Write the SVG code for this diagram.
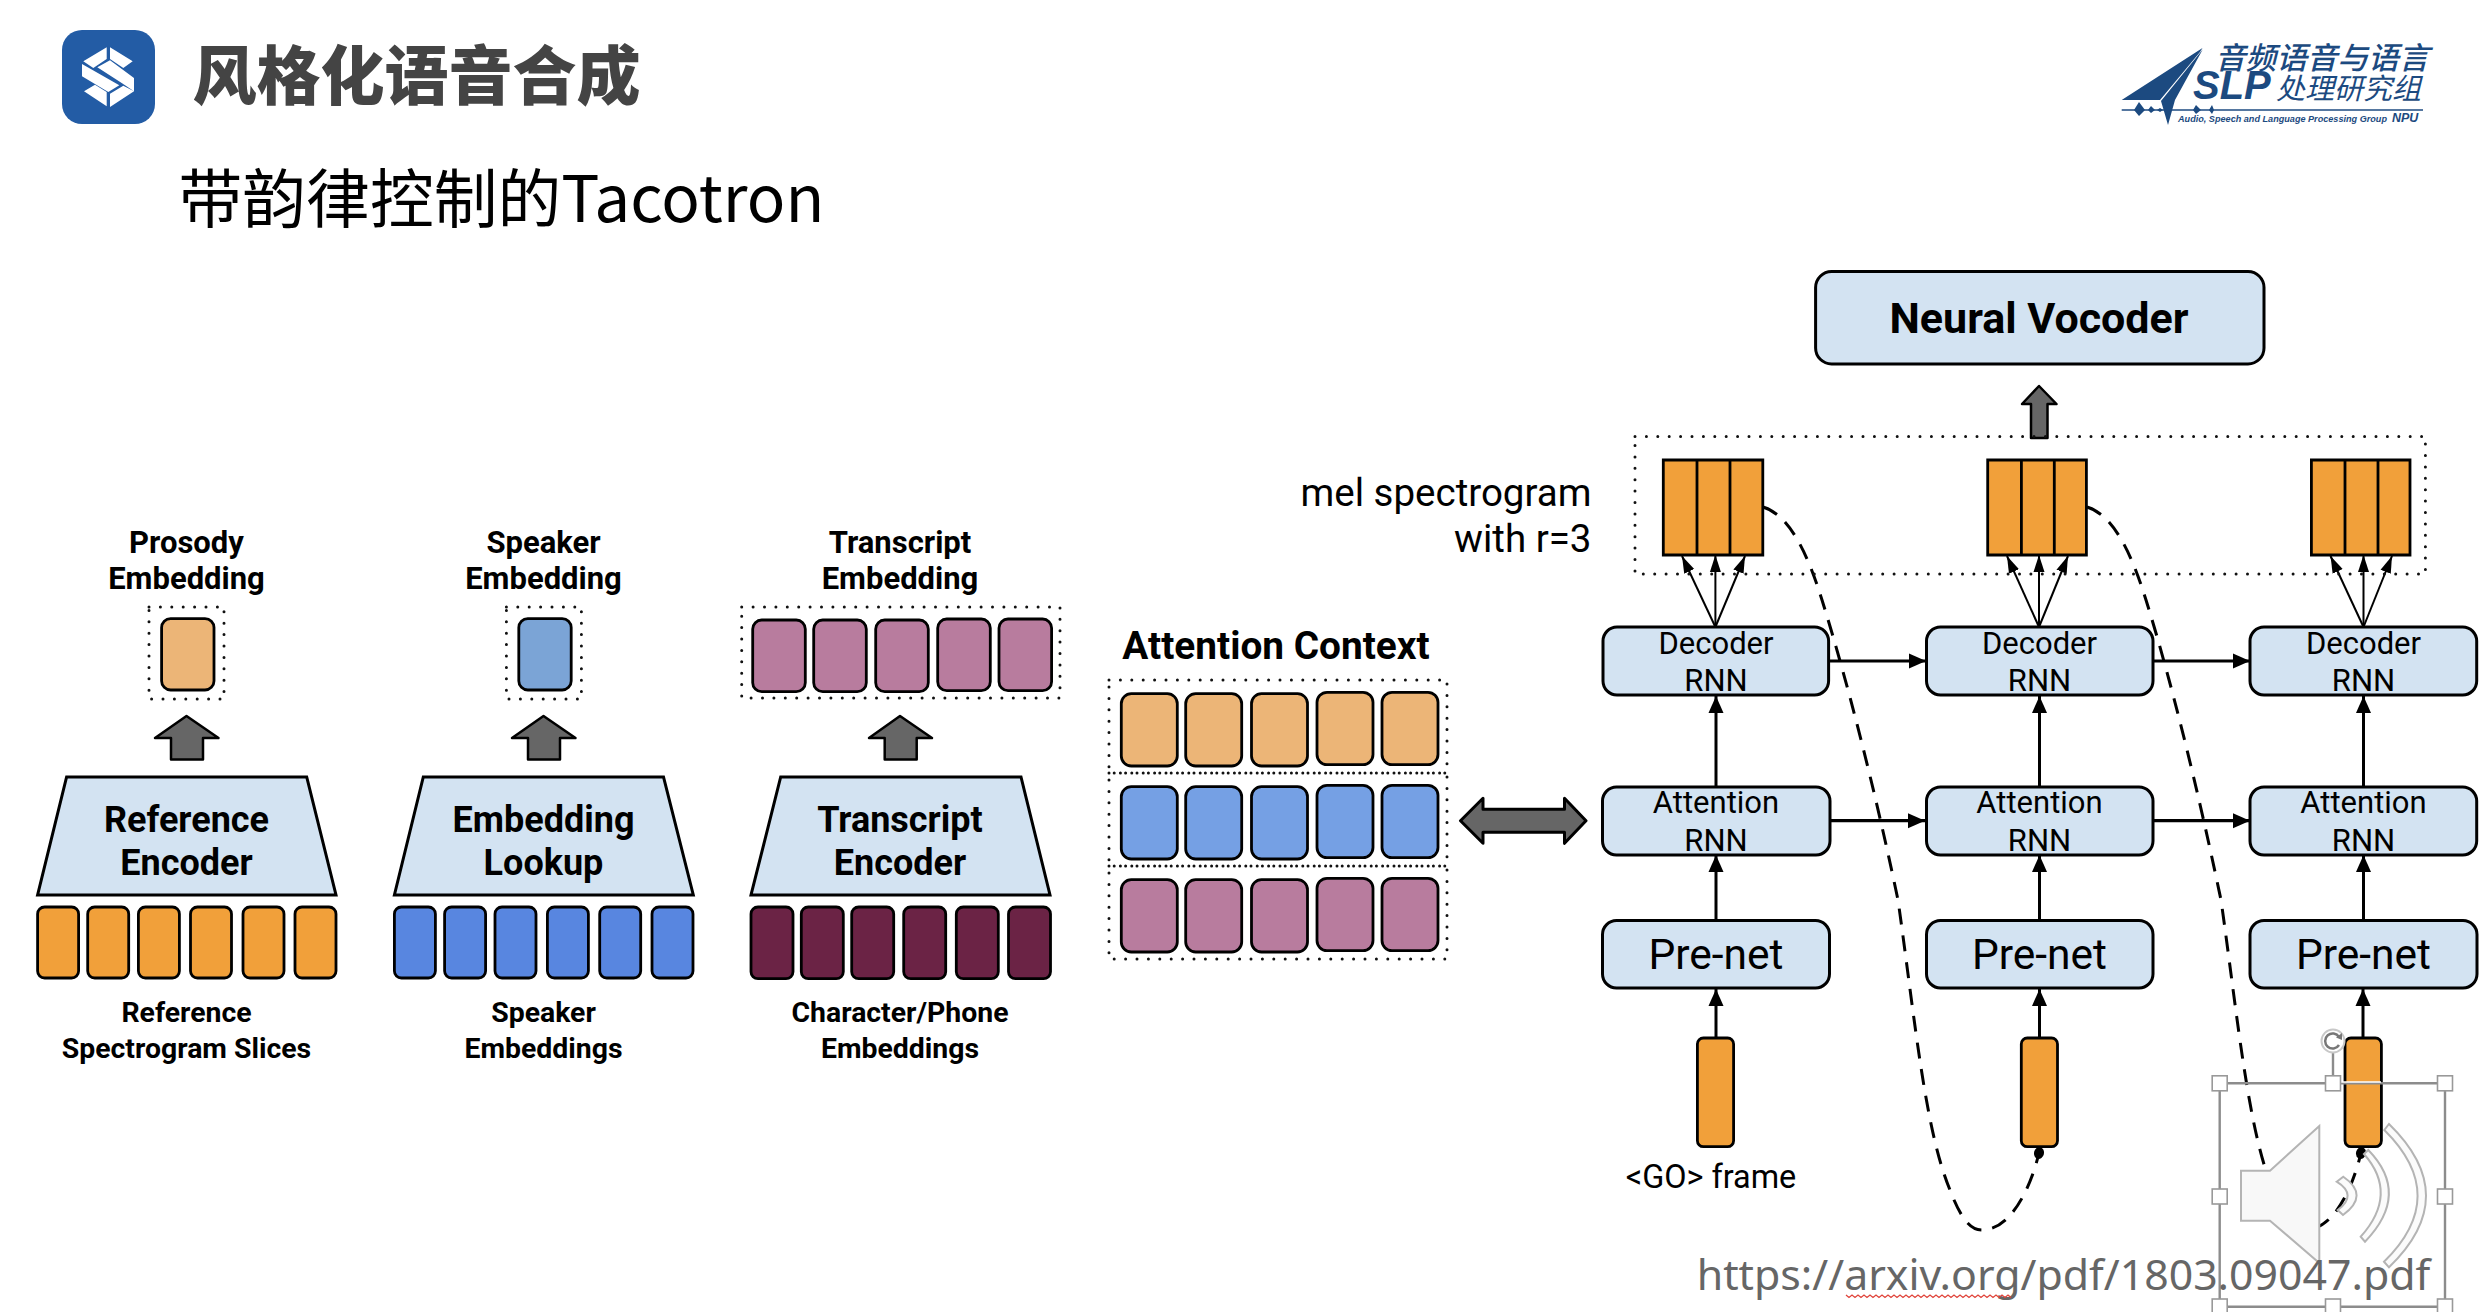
<svg xmlns="http://www.w3.org/2000/svg" width="2488" height="1312" viewBox="0 0 2488 1312">
<style>
text{font-family:Roboto,"Noto Sans",sans-serif;text-anchor:middle;fill:#000}
.cjk{font-family:"Noto Sans CJK SC","Noto Sans",sans-serif;text-anchor:start}
.lab{font-size:31px;font-weight:700}
.lab2{font-size:28.400px;font-weight:700}
.enc{font-size:36px;font-weight:700}
.rnn{font-size:31px}
.pre{font-size:42.500px}
.logo{font-family:"Noto Sans CJK SC",sans-serif;font-style:italic;fill:#1c4a80;text-anchor:start}
.logol{font-family:"Liberation Sans",sans-serif;font-style:italic;font-weight:700;fill:#1c4a80;text-anchor:start}
.c{stroke:#000;stroke-width:2.8}
.or{fill:#f1a03a}.bl{fill:#5886e0}.pl{fill:#6b2345}
.lor{fill:#ecb577}.lbl{fill:#75a0e4}.lpl{fill:#b87c9e}.lb2{fill:#7ba4d6}
.box{fill:#d3e3f2;stroke:#000;stroke-width:3}
.dot{fill:none;stroke:#111;stroke-width:3;stroke-linecap:round;stroke-dasharray:0 11.4}
.gar{fill:#666;stroke:#000;stroke-width:2.5;stroke-linejoin:round}
.ln{fill:none;stroke:#000;stroke-width:3.2}
.v{fill:none;stroke:#000;stroke-width:3}
.thin{fill:none;stroke:#000;stroke-width:2}
.dash{fill:none;stroke:#000;stroke-width:3;stroke-dasharray:16 11}
.h{fill:#fff;stroke:#999;stroke-width:1.6}
.fr{fill:none;stroke:#8c8c8c;stroke-width:2.4}
.arc{fill:#fbfbfb;stroke:#b4b4b4;stroke-width:2}
</style>
<defs>
<marker id="ah" markerUnits="userSpaceOnUse" markerWidth="18" markerHeight="16" refX="17" refY="8" orient="auto"><path d="M0,0.5L17,8L0,15.5Z" fill="#000"/></marker>
<marker id="as" markerUnits="userSpaceOnUse" markerWidth="18" markerHeight="13" refX="17" refY="6.5" orient="auto"><path d="M0,1L17,6.5L0,12Z" fill="#000"/></marker>
<marker id="dt" markerUnits="userSpaceOnUse" markerWidth="14" markerHeight="14" refX="7" refY="7" orient="auto"><ellipse cx="7" cy="7" rx="6" ry="5" fill="#000"/></marker>
</defs>

<g id="header-icon">
<rect x="62" y="30" width="93" height="94" rx="20" fill="#235ca5"/>
<path fill="#fff" d="M83.300,61.300L106.700,47.300V59L93.300,68Z M110,47.300L132.700,61.300L123.300,68L110,59Z M82,64L119.300,85.300L108.300,92L82,76.300Z M97.300,67.300L110,60.300L134,78V91.300L121.700,83Z M84,91.300L95,84.700L106.700,92V106.300Z M110,93.700L123.300,85.700L134,91.300L110,107Z"/>
</g>
<text class="cjk" x="192.500" y="98.500" font-size="64" font-weight="900" style="fill:#444">风格化语音合成</text>
<text class="cjk" x="178.500" y="221.500" font-size="63.800" style="fill:#000">带韵律控制的Tacotron</text>

<g id="slp-logo">
<path fill="#1c4a80" d="M2202.500,48L2121.700,100H2160L2200,52Z M2202.700,49.500L2161,101L2168,125L2175,100Z"/>
<path fill="none" stroke="#1c4a80" stroke-width="1.500" d="M2121.700,110H2423"/>
<path fill="#1c4a80" d="M2134,110L2139,102L2145,110L2139,116Z M2148,110L2151,106L2155,110L2151,113Z M2157,110L2160,108L2163,110L2160,112Z M2193,110L2196,105L2201,110L2196,114Z M2209,110L2212,105L2214,110L2212,114Z"/>
<text class="logo" x="2215" y="69" font-size="30.600" font-weight="500">音频语音与语言</text>
<text class="logol" x="2193" y="99" font-size="40">SLP</text>
<text class="logo" x="2276" y="99" font-size="29">处理研究组</text>
<text class="logol" x="2178" y="122" font-size="9.600" textLength="209" lengthAdjust="spacingAndGlyphs">Audio, Speech and Language Processing Group</text>
<text class="logol" x="2392" y="122" font-size="12.500">NPU</text>
</g>

<g id="connectors">
<path class="ln" marker-end="url(#ah)" d="M1829,661H1926"/>
<path class="ln" marker-end="url(#ah)" d="M2153,661H2250"/>
<path class="ln" marker-end="url(#ah)" d="M1830,820.700H1925"/>
<path class="ln" marker-end="url(#ah)" d="M2153,820.700H2250"/>
<path class="v" marker-end="url(#ah)" d="M1716,787V696"/>
<path class="v" marker-end="url(#ah)" d="M2039.500,787V696"/>
<path class="v" marker-end="url(#ah)" d="M2363.500,787V696"/>
<path class="v" marker-end="url(#ah)" d="M1716,921V855"/>
<path class="v" marker-end="url(#ah)" d="M2039.500,921V855"/>
<path class="v" marker-end="url(#ah)" d="M2363.500,921V855"/>
<path class="v" marker-end="url(#ah)" d="M1716,1038V989"/>
<path class="v" marker-end="url(#ah)" d="M2039.500,1038V989"/>
<path class="v" marker-end="url(#ah)" d="M2363,1038V989"/>
<path class="thin" marker-end="url(#as)" d="M1715.400,627L1682,556"/>
<path class="thin" marker-end="url(#as)" d="M1715.400,627V555"/>
<path class="thin" marker-end="url(#as)" d="M1715.400,627L1745,556"/>
<path class="thin" marker-end="url(#as)" d="M2039,627L2007,556"/>
<path class="thin" marker-end="url(#as)" d="M2039,627V555"/>
<path class="thin" marker-end="url(#as)" d="M2039,627L2068,556"/>
<path class="thin" marker-end="url(#as)" d="M2363.500,627L2330.500,556"/>
<path class="thin" marker-end="url(#as)" d="M2363.500,627V555"/>
<path class="thin" marker-end="url(#as)" d="M2363.500,627L2392,556"/>
<path class="dash" marker-end="url(#dt)" d="M1763,507C1790,515 1808,555 1822,600C1847,680 1875,790 1898,900C1915,1020 1925,1130 1950,1190C1962,1222 1972,1230 1982,1230C2010,1230 2030,1190 2039,1153"/>
<path class="dash" marker-end="url(#dt)" d="M2087,507C2114,515 2132,555 2146,600C2171,680 2198,790 2221,900C2238,1020 2248,1130 2273,1190C2285,1222 2295,1230 2305,1230C2333,1230 2352,1190 2361,1153"/>
</g>

<g id="prosody-embedding">
<text class="lab" x="186.500" y="553">Prosody</text><text class="lab" x="186.500" y="589">Embedding</text>
<rect class="dot" x="149" y="607" width="75" height="92"/>
<rect class="c lor" x="161.600" y="618.600" width="52.400" height="71.400" rx="9"/>
</g>
<path id="arrow-1" class="gar" d="M186.500,716L218.500,738H203V759.500H171V738H155Z"/>
<g id="reference-encoder">
<path class="box" d="M66.600,777H306.700L336,895H37.600Z"/>
<text class="enc" x="186.500" y="832">Reference</text><text class="enc" x="186.500" y="875">Encoder</text>
</g>
<g id="reference-slices">
<rect class="c or" x="37.600" y="907" width="41" height="71" rx="7"/><rect class="c or" x="87.700" y="907" width="41" height="71" rx="7"/><rect class="c or" x="138.400" y="907" width="41" height="71" rx="7"/><rect class="c or" x="190.500" y="907" width="41" height="71" rx="7"/><rect class="c or" x="243" y="907" width="41" height="71" rx="7"/><rect class="c or" x="295" y="907" width="41" height="71" rx="7"/>
<text class="lab2" x="186.500" y="1022">Reference</text><text class="lab2" x="186.500" y="1057.500">Spectrogram Slices</text>
</g>

<g id="speaker-embedding">
<text class="lab" x="543.500" y="553">Speaker</text><text class="lab" x="543.500" y="589">Embedding</text>
<rect class="dot" x="506.400" y="607" width="75" height="92"/>
<rect class="c lb2" x="518.800" y="618.600" width="52.400" height="71.400" rx="9"/>
</g>
<path id="arrow-2" class="gar" d="M543.500,716L575.500,738H560V759.500H528V738H512Z"/>
<g id="embedding-lookup">
<path class="box" d="M423.300,777H663.500L693.300,895H394.400Z"/>
<text class="enc" x="543.500" y="832">Embedding</text><text class="enc" x="543.500" y="875">Lookup</text>
</g>
<g id="speaker-slices">
<rect class="c bl" x="394.400" y="907" width="41" height="71" rx="7"/><rect class="c bl" x="444.600" y="907" width="41" height="71" rx="7"/><rect class="c bl" x="495" y="907" width="41" height="71" rx="7"/><rect class="c bl" x="547.400" y="907" width="41" height="71" rx="7"/><rect class="c bl" x="599.700" y="907" width="41" height="71" rx="7"/><rect class="c bl" x="652" y="907" width="41" height="71" rx="7"/>
<text class="lab2" x="543.500" y="1022">Speaker</text><text class="lab2" x="543.500" y="1057.500">Embeddings</text>
</g>

<g id="transcript-embedding">
<text class="lab" x="900" y="553">Transcript</text><text class="lab" x="900" y="589">Embedding</text>
<rect class="dot" x="741.700" y="607" width="318.300" height="91"/>
<rect class="c lpl" x="752.700" y="620" width="52.600" height="71.700" rx="9"/><rect class="c lpl" x="813.700" y="620" width="52.600" height="71.700" rx="9"/><rect class="c lpl" x="875.700" y="620" width="52.600" height="71.700" rx="9"/><rect class="c lpl" x="937.700" y="619" width="52.600" height="71.700" rx="9"/><rect class="c lpl" x="999" y="619" width="52.600" height="71.700" rx="9"/>
</g>
<path id="arrow-3" class="gar" d="M900,716L932,738H916.700V759.500H884.700V738H869Z"/>
<g id="transcript-encoder">
<path class="box" d="M780.700,777H1021L1050,895H751Z"/>
<text class="enc" x="900" y="832">Transcript</text><text class="enc" x="900" y="875">Encoder</text>
</g>
<g id="character-slices">
<rect class="c pl" x="751" y="907" width="42" height="71.700" rx="7"/><rect class="c pl" x="801.300" y="907" width="42" height="71.700" rx="7"/><rect class="c pl" x="851.700" y="907" width="42" height="71.700" rx="7"/><rect class="c pl" x="903.700" y="907" width="42" height="71.700" rx="7"/><rect class="c pl" x="956.300" y="907" width="42" height="71.700" rx="7"/><rect class="c pl" x="1008.500" y="907" width="42" height="71.700" rx="7"/>
<text class="lab2" x="900" y="1022">Character/Phone</text><text class="lab2" x="900" y="1057.500">Embeddings</text>
</g>

<g id="attention-context">
<text x="1276" y="658.500" font-size="38.800" font-weight="700">Attention Context</text>
<rect class="dot" x="1109" y="680" width="338" height="93"/><rect class="dot" x="1109" y="773" width="338" height="93"/><rect class="dot" x="1109" y="866" width="338" height="93"/>
<g class="lor"><rect class="c" x="1121.300" y="693.700" width="56" height="72.300" rx="10"/><rect class="c" x="1185.700" y="693.700" width="56" height="72.300" rx="10"/><rect class="c" x="1251.500" y="693.700" width="56" height="72.300" rx="10"/><rect class="c" x="1317" y="692.300" width="56" height="72.300" rx="10"/><rect class="c" x="1382" y="692.300" width="56" height="72.300" rx="10"/></g>
<g class="lbl"><rect class="c" x="1121.300" y="786.700" width="56" height="72.300" rx="10"/><rect class="c" x="1185.700" y="786.700" width="56" height="72.300" rx="10"/><rect class="c" x="1251.500" y="786.700" width="56" height="72.300" rx="10"/><rect class="c" x="1317" y="785.300" width="56" height="72.300" rx="10"/><rect class="c" x="1382" y="785.300" width="56" height="72.300" rx="10"/></g>
<g class="lpl"><rect class="c" x="1121.300" y="879.700" width="56" height="72.300" rx="10"/><rect class="c" x="1185.700" y="879.700" width="56" height="72.300" rx="10"/><rect class="c" x="1251.500" y="879.700" width="56" height="72.300" rx="10"/><rect class="c" x="1317" y="878.300" width="56" height="72.300" rx="10"/><rect class="c" x="1382" y="878.300" width="56" height="72.300" rx="10"/></g>
</g>
<path id="double-arrow" class="gar" style="stroke-width:3" d="M1460.500,820.700L1483,798.300V809.300H1564.500V798.300L1586,820.700L1564.500,843.300V832.300H1483V843.300Z"/>

<g id="neural-vocoder">
<rect class="box" x="1815.600" y="271.500" width="448.400" height="92.500" rx="16"/>
<text x="2039" y="333" font-size="43" font-weight="700">Neural Vocoder</text>
</g>
<path id="vocoder-arrow" class="gar" d="M2039,386L2056.500,404H2047.500V438H2031V404H2022Z"/>

<g id="mel-output">
<text x="1591.500" y="506" font-size="38.500" style="text-anchor:end">mel spectrogram</text>
<text x="1591.500" y="552" font-size="38.500" style="text-anchor:end">with r=3</text>
<rect class="dot" x="1635" y="436.500" width="790.400" height="137.500"/>
<path class="or" stroke="#000" stroke-width="2.800" d="M1663.300,460H1762.800V555H1663.300Z M1697,460V555 M1730,460V555"/>
<path class="or" stroke="#000" stroke-width="2.800" d="M1987.700,460H2086.400V555H1987.700Z M2021.400,460V555 M2054.300,460V555"/>
<path class="or" stroke="#000" stroke-width="2.800" d="M2311.400,460H2410V555H2311.400Z M2345,460V555 M2378,460V555"/>
</g>

<g id="decoder-1"><rect class="box" x="1603" y="627" width="225.600" height="68" rx="14"/><text class="rnn" x="1716" y="654">Decoder</text><text class="rnn" x="1716" y="691">RNN</text></g>
<g id="decoder-2"><rect class="box" x="1926.500" y="627" width="226.500" height="68" rx="14"/><text class="rnn" x="2039.500" y="654">Decoder</text><text class="rnn" x="2039.500" y="691">RNN</text></g>
<g id="decoder-3"><rect class="box" x="2250" y="627" width="226.700" height="68" rx="14"/><text class="rnn" x="2363.500" y="654">Decoder</text><text class="rnn" x="2363.500" y="691">RNN</text></g>
<g id="attention-1"><rect class="box" x="1602.500" y="787" width="227.500" height="68" rx="14"/><text class="rnn" x="1716" y="813">Attention</text><text class="rnn" x="1716" y="851">RNN</text></g>
<g id="attention-2"><rect class="box" x="1926.500" y="787" width="226.500" height="68" rx="14"/><text class="rnn" x="2039.500" y="813">Attention</text><text class="rnn" x="2039.500" y="851">RNN</text></g>
<g id="attention-3"><rect class="box" x="2250" y="787" width="226.700" height="68" rx="14"/><text class="rnn" x="2363.500" y="813">Attention</text><text class="rnn" x="2363.500" y="851">RNN</text></g>
<g id="prenet-1"><rect class="box" x="1602.500" y="920.500" width="227" height="67.500" rx="14"/><text class="pre" x="1716" y="969">Pre-net</text></g>
<g id="prenet-2"><rect class="box" x="1926.500" y="920.500" width="226.500" height="67.500" rx="14"/><text class="pre" x="2039.500" y="969">Pre-net</text></g>
<g id="prenet-3"><rect class="box" x="2250" y="920.500" width="227" height="67.500" rx="14"/><text class="pre" x="2363.500" y="969">Pre-net</text></g>

<g id="frame-1"><rect class="c or" x="1697.400" y="1038" width="36.200" height="108.700" rx="6"/><text x="1711" y="1188" font-size="32.400">&lt;GO&gt; frame</text></g>
<g id="frame-2"><rect class="c or" x="2021.300" y="1038" width="36.200" height="108.700" rx="6"/></g>
<g id="frame-3"><rect class="c or" x="2345" y="1038" width="36.400" height="108.700" rx="6"/></g>

<g id="speaker-icon">
<path d="M2241,1170.700H2270L2319.300,1126V1263L2270,1220.700H2241Z" fill="#f8f8f8" stroke="#b4b4b4" stroke-width="2"/>
<path class="arc" d="M2336.700,1181.700L2343.300,1176.700Q2370,1195 2343,1215L2337.700,1210Q2358,1195 2336.700,1181.700Z"/>
<path class="arc" d="M2364,1154L2368.300,1150Q2411,1194 2365,1241.700L2360.700,1236.700Q2399,1194 2364,1154Z"/>
<path class="arc" d="M2384.300,1130L2389,1124Q2463,1196 2389,1267.300L2384,1261.700Q2451,1196 2384.300,1130Z"/>
</g>
<g id="selection-frame">
<path class="fr" d="M2219.700,1083.300H2445V1306.700H2219.700Z M2333,1052V1083"/>
<path d="M2341,1082H2381" stroke="#fff" stroke-width="1.500"/>
<circle cx="2333" cy="1041" r="11.500" fill="#fff" stroke="#c8c8c8" stroke-width="2"/>
<path d="M2339,1037A7.500,7.500 0 1 0 2339,1045" fill="none" stroke="#777" stroke-width="2.500"/>
<path d="M2336,1037.500L2342,1033V1040Z" fill="#777"/>
<rect class="h" x="2212.200" y="1075.800" width="15" height="15"/><rect class="h" x="2325.500" y="1075.800" width="15" height="15"/><rect class="h" x="2437.500" y="1075.800" width="15" height="15"/>
<rect class="h" x="2212.200" y="1189" width="15" height="15"/><rect class="h" x="2437.500" y="1189" width="15" height="15"/>
<rect class="h" x="2212.200" y="1299" width="15" height="15"/><rect class="h" x="2325.500" y="1299" width="15" height="15"/><rect class="h" x="2437.500" y="1299" width="15" height="15"/>
</g>

<g id="source-url">
<text x="2063.500" y="1290" font-size="42.800" style="font-family:'Noto Sans',sans-serif;fill:#666">https://arxiv.org/pdf/1803.09047.pdf</text>
<path fill="none" stroke="#e0443a" stroke-width="1.300" d="M1846,1295l3,2.500l3,-2.500l3,2.500l3,-2.500l3,2.500l3,-2.500l3,2.500l3,-2.500l3,2.500l3,-2.500l3,2.500l3,-2.500l3,2.500l3,-2.500l3,2.500l3,-2.500l3,2.500l3,-2.500l3,2.500l3,-2.500l3,2.500l3,-2.500l3,2.500l3,-2.500l3,2.500l3,-2.500l3,2.500l3,-2.500l3,2.500l3,-2.500l3,2.500l3,-2.500l3,2.500l3,-2.500l3,2.500l3,-2.500l3,2.500l3,-2.500l3,2.500l3,-2.500l3,2.500l3,-2.500l3,2.500l3,-2.500l3,2.500l3,-2.500l3,2.500l3,-2.500l3,2.500l3,-2.500l3,2.500l3,-2.500l3,2.500l3,-2.500l3,2.500"/>
</g>
</svg>
